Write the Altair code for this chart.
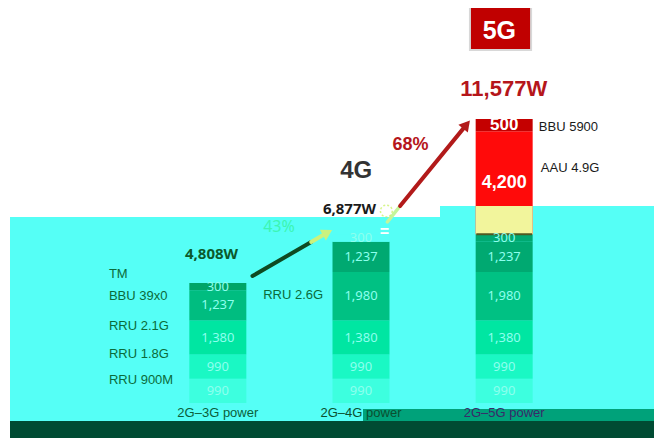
import altair as alt
import pandas as pd

# ---------------- data ----------------
categories = ["2G–3G power", "2G–4G power", "2G–5G power"]
bar_pos = [0, 1, 2]
totals_text = ["4,808W", "6,877W", "11,577W"]
growth_text = ["43%", "68%"]
gen_text = ["4G", "5G"]

bar1_values = [990, 990, 1380, 1237, 300]
bar2_values = [990, 990, 1380, 1980, 1237, 300]
bar3_values = [990, 990, 1380, 1980, 1237, 300, 4200, 500]

left_labels = ["TM", "BBU 39x0", "RRU 2.1G", "RRU 1.8G", "RRU 900M"]
mid_label = "RRU 2.6G"
right_labels = ["BBU 5900", "AAU 4.9G"]

# ---------------- styles ----------------
bar1_colors = ["#3DFFDF", "#1AF8C4", "#00E6A2", "#00BD80", "#00A566"]
bar2_colors = ["#3DFFDF", "#1AF8C4", "#00E6A2", "#00C183", "#00A971", "#55FFF6"]
bar3_colors = ["#3DFFDF", "#1AF8C4", "#00E6A2", "#00C183", "#00A971", "#00A971", "#FF0A0A", "#C40000"]

CYAN = "#55FFF6"
W, H = 646, 395
Y_MAX = 16103
XS = alt.Scale(domain=[-0.5, 2.5], range=[133.25, 572.75])
YS = alt.Scale(domain=[0, Y_MAX])
BAR_W = 57
SANS = "Liberation Sans"
NUMF = "Noto Sans"
CYAN_TOP_LEFT = 209
CYAN_TOP_RIGHT = 198

# ---------------- segments table ----------------
rows = []
for i, (vals, cols) in enumerate(zip([bar1_values, bar2_values, bar3_values],
                                     [bar1_colors, bar2_colors, bar3_colors])):
    cum = 0
    for k, (v, c) in enumerate(zip(vals, cols)):
        red = i == 2 and k >= 6
        rows.append(dict(pos=bar_pos[i], y0=cum, y1=cum + v, mid=cum + v / 2,
                         color=c, label=f"{v:,}", red=red, big=(v == 4200)))
        cum += v
seg = pd.DataFrame(rows)

one = pd.DataFrame({"d": [0]})


def bg(x, x2, y, y2, color):
    return alt.Chart(one).mark_rect(color=color).encode(
        x=alt.value(x), x2=alt.value(x2), y=alt.value(y), y2=alt.value(y2))


layers = [
    bg(2, 646, CYAN_TOP_LEFT, 413, CYAN),
    bg(432, 646, CYAN_TOP_RIGHT, CYAN_TOP_LEFT + 1, CYAN),
    bg(355, 646, 401, 413, "#00A27A"),
    bg(2, 646, 413, 430, "#004B33"),
]

bars = alt.Chart(seg).mark_bar(size=BAR_W).encode(
    x=alt.X("pos:Q", scale=XS,
            axis=alt.Axis(values=[-0.5, 0.5, 1.5, 2.5], labels=False, ticks=True,
                          tickSize=3, tickColor="#8CFFF8", domainColor="#8CFFF8",
                          grid=False, title=None)),
    y=alt.Y("y0:Q", scale=YS, axis=None),
    y2="y1:Q",
    color=alt.Color("color:N", scale=None),
)
layers.append(bars)

# glitch band on the 4,200 segment inside the cyan zone
base5 = sum(bar3_values[:6])
top_glitch = (H - CYAN_TOP_RIGHT) * Y_MAX / H
yellow = pd.DataFrame({"pos": [bar_pos[2]], "y": [base5], "y2": [top_glitch]})
layers.append(alt.Chart(yellow).mark_bar(size=BAR_W, color="#F2F59C").encode(
    x=alt.X("pos:Q", scale=XS, axis=None), y=alt.Y("y:Q", scale=YS, axis=None),
    y2="y2:Q"))
edge = pd.DataFrame({"x": [bar_pos[2] - BAR_W / 2 / 146.5], "x2": [bar_pos[2] + BAR_W / 2 / 146.5],
                     "y": [base5]})
layers.append(alt.Chart(edge).mark_rule(color="#4F5A22", strokeWidth=2).encode(
    x=alt.X("x:Q", scale=XS, axis=None), x2="x2:Q", y=alt.Y("y:Q", scale=YS, axis=None)))

# segment labels
green_lab = seg[~seg["red"]]
layers.append(alt.Chart(green_lab).mark_text(font=NUMF, fontSize=13, color="#8DFFEE",
                                             baseline="middle").encode(
    x=alt.X("pos:Q", scale=XS, axis=None), y=alt.Y("mid:Q", scale=YS, axis=None), text="label:N"))
layers.append(alt.Chart(seg[seg["red"] & ~seg["big"]]).mark_text(
    font=SANS, fontSize=17, fontWeight="bold", color="white", baseline="middle").encode(
    x=alt.X("pos:Q", scale=XS, axis=None), y=alt.Y("mid:Q", scale=YS, axis=None), text="label:N"))
layers.append(alt.Chart(seg[seg["big"]]).mark_text(
    font=SANS, fontSize=18, fontWeight="bold", color="white", baseline="middle").encode(
    x=alt.X("pos:Q", scale=XS, axis=None), y=alt.Y("mid:Q", scale=YS, axis=None), text="label:N"))

# 5G box
box = pd.DataFrame({"x": [1.761], "x2": [2.188], "y": [14390], "y2": [16143]})
layers.append(alt.Chart(box).mark_rect(color="#C00000", stroke="#D8D8D8", strokeWidth=2).encode(
    x=alt.X("x:Q", scale=XS, axis=None), x2="x2:Q",
    y=alt.Y("y:Q", scale=YS, axis=None), y2="y2:Q"))

# annotations: (text, x, y, size, weight, color, align, font)
ann = [
    (gen_text[1], 1.966, 15165, 25, "bold", "white", "center", SANS),
    (totals_text[2], 1.997, 12801, 22, "bold", "#B5161B", "center", SANS),
    (growth_text[1], 1.345, 10518, 18, "bold", "#B5161B", "center", SANS),
    (gen_text[0], 0.966, 9458, 24, "bold", "#333333", "center", SANS),
    (totals_text[1], 0.734, 7929, 15, "bold", "#1A1A1A", "left", NUMF),
    (growth_text[0], 0.427, 7195, 16, "normal", "#3CF5B2", "center", NUMF),
    (totals_text[0], -0.044, 6054, 15, "bold", "#0B5A2C", "center", NUMF),
    (mid_label, 0.317, 4403, 13, "normal", "#0B6B3A", "left", SANS),
    (right_labels[0], 2.242, 11252, 13, "normal", "#1A1A1A", "left", SANS),
    (right_labels[1], 2.256, 9580, 13, "normal", "#1A1A1A", "left", SANS),
    ("=", 1.164, 6971, 16, "bold", "white", "center", SANS),
]
left_y = [5279, 4362, 3139, 1998, 938]
for t, yy in zip(left_labels, left_y):
    ann.append((t, -0.761, yy, 13, "normal", "#0B6B3A", "left", SANS))

for t, x, y, s, wgt, c, al, f in ann:
    d = pd.DataFrame({"x": [x], "y": [y], "t": [t]})
    layers.append(alt.Chart(d).mark_text(font=f, fontSize=s, fontWeight=wgt, color=c,
                                         align=al, baseline="middle").encode(
        x=alt.X("x:Q", scale=XS, axis=None), y=alt.Y("y:Q", scale=YS, axis=None), text="t:N"))

# category labels
cat_colors = ["#0B5E3A", "#0B4F30", "#3A2A6A"]
for p, t, c in zip(bar_pos, categories, cat_colors):
    d = pd.DataFrame({"x": [p], "t": [t]})
    layers.append(alt.Chart(d).mark_text(font=SANS, fontSize=13, color=c, baseline="middle").encode(
        x=alt.X("x:Q", scale=XS, axis=None), y=alt.value(405), text="t:N"))

# arrows
arrows = pd.DataFrame({
    "x": [0.242, 0.652, 1.184, 1.273],
    "x2": [0.652, 0.766, 1.273, 1.737],
    "y": [5177, 6563, 7379, 8031],
    "y2": [6563, 6950, 8031, 11349],
    "c": ["#0E4A22", "#CBF27E", "#C4F59A", "#B21A1A"],
    "w": [4, 4, 3.5, 4],
})
layers.append(alt.Chart(arrows).mark_rule(strokeCap="round").encode(
    x=alt.X("x:Q", scale=XS, axis=None), x2="x2:Q",
    y=alt.Y("y:Q", scale=YS, axis=None), y2="y2:Q",
    color=alt.Color("c:N", scale=None), strokeWidth=alt.StrokeWidth("w:Q", scale=None)))
heads = pd.DataFrame({"x": [0.766, 1.737], "y": [6950, 11349], "a": [60.6, 39.8],
                      "c": ["#CBF27E", "#B21A1A"]})
layers.append(alt.Chart(heads).mark_point(shape="triangle-up", filled=True, size=150, opacity=1).encode(
    x=alt.X("x:Q", scale=XS, axis=None), y=alt.Y("y:Q", scale=YS, axis=None),
    angle=alt.Angle("a:Q", scale=None), color=alt.Color("c:N", scale=None)))
glitch = pd.DataFrame({"x": [1.177], "y": [7827]})
layers.append(alt.Chart(glitch).mark_point(shape="circle", size=140, filled=False, color="#C6F25A",
                                           strokeWidth=1.5, strokeDash=[2, 2]).encode(
    x=alt.X("x:Q", scale=XS, axis=None), y=alt.Y("y:Q", scale=YS, axis=None)))

chart = alt.layer(*layers).properties(
    width=W, height=H, autosize="none",
    padding={"left": 0, "top": 0, "right": 0, "bottom": 35},
    background="white",
).configure_view(strokeWidth=0)

chart.save("out.html", embed_options={"renderer": "svg", "actions": False})
